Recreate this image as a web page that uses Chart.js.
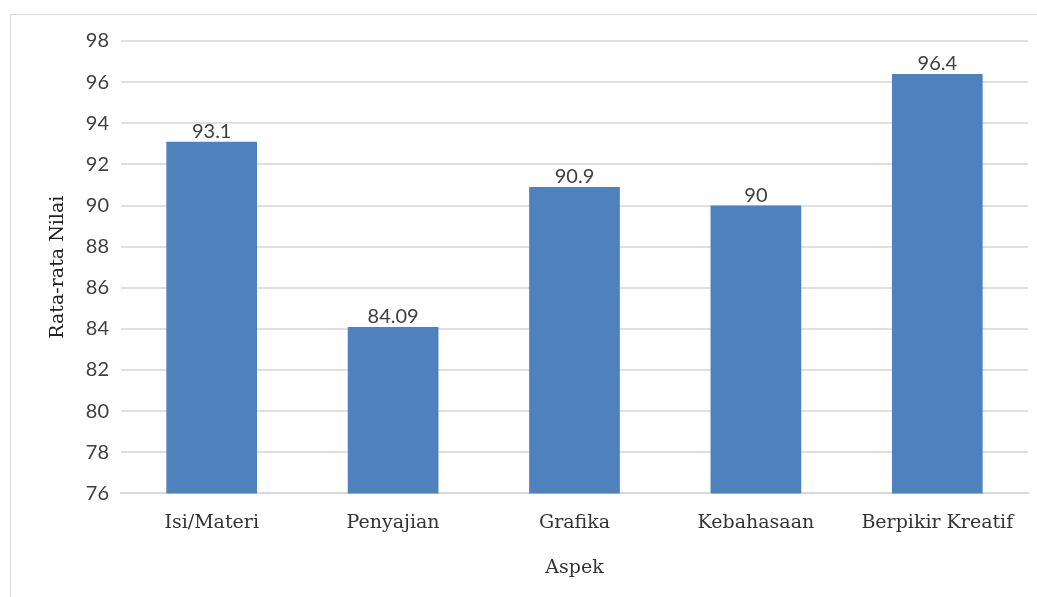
<!DOCTYPE html>
<html><head><meta charset="utf-8">
<script src="https://cdn.jsdelivr.net/npm/chart.js@4.4.1/dist/chart.umd.min.js"></script>
<style>
html,body{margin:0;padding:0;background:#fff;}
#wrap{position:relative;width:1037px;height:597px;}
#frame{position:absolute;left:10px;top:14px;width:1040px;height:600px;border:1px solid #d9d9d9;box-sizing:border-box;}
canvas{position:absolute;left:0;top:0;}
</style></head><body>
<div id="wrap"><div id="frame"></div><canvas id="c" width="1037" height="597"></canvas></div>
<script>
const categories = ["Isi/Materi","Penyajian","Grafika","Kebahasaan","Berpikir Kreatif"];
const values = [93.1, 84.09, 90.9, 90, 96.4];
const valueLabels = ["93.1","84.09","90.9","90","96.4"];
const yMin = 76, yMax = 98, yStep = 2;

const labelPlugin = {
  id:'vlabels',
  afterDatasetsDraw(chart){
    const ctx = chart.ctx;
    const meta = chart.getDatasetMeta(0);
    ctx.save();
    ctx.font = '20px Lato';
    ctx.fillStyle = '#404040';
    ctx.textAlign = 'center';
    ctx.textBaseline = 'bottom';
    meta.data.forEach((el,i)=>{
      ctx.fillText(valueLabels[i], el.x, el.y);
    });
    ctx.restore();
  }
};

new Chart(document.getElementById('c'), {
  type:'bar',
  data:{labels:categories, datasets:[{data:values, backgroundColor:'#4F81BD', barPercentage:0.5, categoryPercentage:1.0}]},
  options:{
    responsive:false, animation:false,
    layout:{padding:{left:43, right:9, top:41, bottom:14}},
    plugins:{legend:{display:false}, tooltip:{enabled:false}},
    scales:{
      x:{
        grid:{display:false},
        border:{display:true, color:'#d9d9d9', width:2},
        ticks:{color:'#333', font:{family:'DejaVu Serif', size:19}, padding:10},
        title:{display:true, text:'Aspek', color:'#333', font:{family:'DejaVu Serif', size:19}, padding:{top:12}}
      },
      y:{
        min:yMin, max:yMax,
        ticks:{stepSize:yStep, color:'#404040', font:{family:'Lato', size:20}, padding:12},
        grid:{color:'#e0e0e0', lineWidth:2, drawTicks:false},
        border:{display:false},
        title:{display:true, text:'Rata-rata Nilai', color:'#222', font:{family:'DejaVu Serif', size:19}, padding:{bottom:4}}
      }
    }
  },
  plugins:[labelPlugin]
});
</script>
</body></html>
